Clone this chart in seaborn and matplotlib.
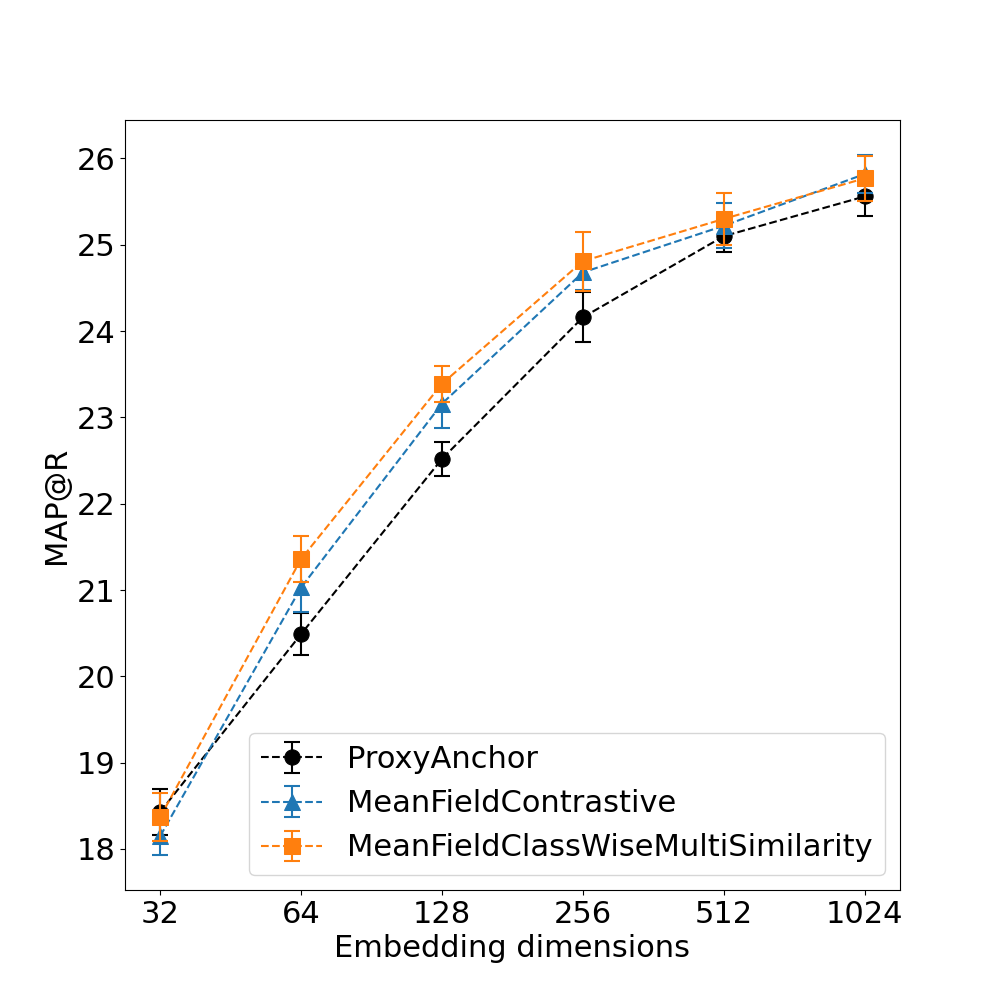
import numpy as np
import pandas as pd
import matplotlib
matplotlib.use("Agg")
import matplotlib.pyplot as plt
from matplotlib.legend_handler import HandlerTuple
import seaborn as sns

dims = [32, 64, 128, 256, 512, 1024]
methods = ["ProxyAnchor", "MeanFieldContrastive", "MeanFieldClassWiseMultiSimilarity"]

proxy_mean = [18.43, 20.49, 22.52, 24.16, 25.10, 25.56]
proxy_err = [0.27, 0.24, 0.20, 0.29, 0.18, 0.23]
contrast_mean = [18.15, 21.03, 23.16, 24.68, 25.22, 25.82]
contrast_err = [0.22, 0.28, 0.28, 0.20, 0.26, 0.22]
cwms_mean = [18.37, 21.36, 23.39, 24.81, 25.30, 25.77]
cwms_err = [0.28, 0.27, 0.21, 0.34, 0.30, 0.26]

colors = ["black", "#1f77b4", "#ff7f0e"]
markers = ["o", "^", "s"]

df = pd.DataFrame({
    "dim": dims * 3,
    "map": proxy_mean + contrast_mean + cwms_mean,
    "err": proxy_err + contrast_err + cwms_err,
    "method": sum([[m] * len(dims) for m in methods], []),
})

fig, ax = plt.subplots(figsize=(10, 10), dpi=100)
FS = 22

handles = []
for i, (m, c, mk) in enumerate(zip(methods, colors, markers)):
    sub = df[df["method"] == m]
    n_before = len(ax.lines)
    sns.lineplot(data=sub, x="dim", y="map", color=c, marker=mk, markersize=11,
                 markeredgecolor=c, linestyle="--", linewidth=1.5, ax=ax, legend=False,
                 zorder=3 + i)
    line = ax.lines[n_before]
    eb = ax.errorbar(sub["dim"], sub["map"], yerr=sub["err"], fmt="none", ecolor=c,
                     elinewidth=1.5, capsize=6, capthick=1.5, zorder=2.9 + i)
    handles.append((line, eb))

ax.set_xscale("log", base=2)
ax.set_xticks(dims)
ax.set_xticklabels([str(d) for d in dims])
ax.minorticks_off()
ax.tick_params(labelsize=FS)
ax.set_xlabel("Embedding dimensions", fontsize=FS)
ax.set_ylabel("MAP@R", fontsize=FS)
leg = ax.legend(handles=handles, labels=methods, loc="lower right", fontsize=FS,
                handler_map={tuple: HandlerTuple(ndivide=1, pad=0)})
leg.set_zorder(10)

fig.savefig("out.png", dpi=100)
